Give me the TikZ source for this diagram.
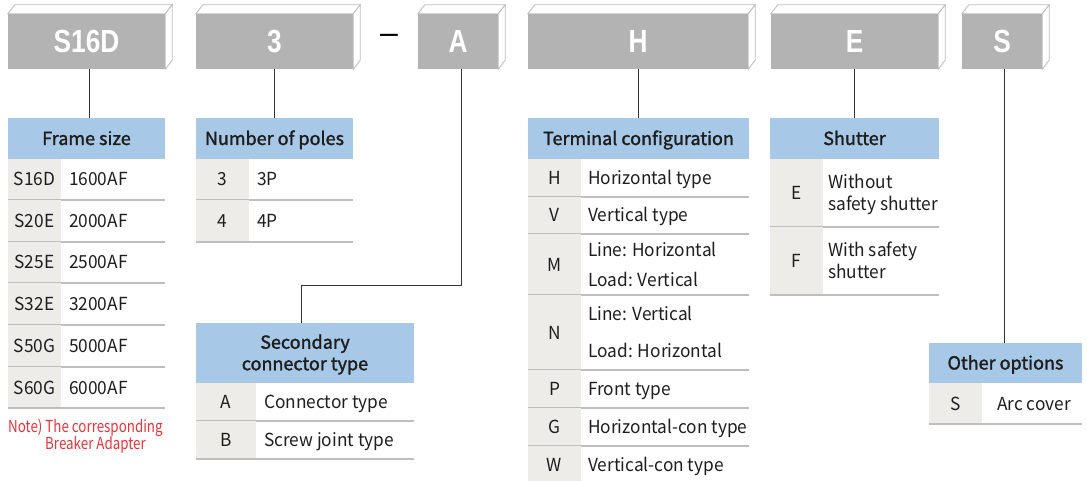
\documentclass[tikz,border=0pt]{standalone}
\usepackage{fontspec}
\setmainfont[FakeStretch=0.96]{Noto Sans CJK KR}
\newfontfamily\hdrfont[FakeBold=1.6]{Noto Sans CJK KR}
\newfontfamily\boxfont[FakeStretch=0.82]{Liberation Sans}
\newfontfamily\dashfont{Liberation Sans}
\newfontfamily\notefont[FakeStretch=0.81]{Noto Sans CJK KR}

\definecolor{boxgray}{HTML}{B3B3B3}
\definecolor{faceline}{HTML}{BEBEBE}
\definecolor{hdrblue}{HTML}{A7C8E6}
\definecolor{codebg}{HTML}{EDECE9}
\definecolor{sepline}{HTML}{BEBEBE}
\definecolor{linkline}{HTML}{333333}
\definecolor{notered}{HTML}{E8323C}
\definecolor{txt}{HTML}{1E1E1E}

% one table row: name, x0, x-split, x1, y0, y1, code, description, description options
\newcommand\tabrow[9]{%
  \fill[codebg] (#2,#5) rectangle (#3,#6);
  \draw[sepline, line width=1.4pt] (#2,#6) -- (#4,#6);
  \node[codetxt] (#1c) at ({(#2+#3)/2},{(#5+#6)/2}) {#7};
  \node[desctxt, #9] (#1d) at (#3,{(#5+#6)/2}) {#8};
}

% raised grey code block with its top and side faces
\newcommand\codeblock[4]{% name, x0, x1, letter
  \node[block, minimum width={#3-#2}] (#1) at ({(#2+#3)/2},41.5) {#4};
  \filldraw[fill=white, draw=faceline, line width=0.9pt]
    (#1.north west) -- ++(7,-9) -- ([xshift=7,yshift=9]#1.north east) -- (#1.north east) -- cycle;
  \filldraw[fill=white, draw=faceline, line width=0.9pt]
    (#1.north east) -- ++(7,-9) -- ([xshift=7,yshift=9]#1.south east) -- (#1.south east) -- cycle;
}

\begin{document}
\begin{tikzpicture}[x=1pt,y=-1pt,
  block/.style={rectangle, fill=boxgray, inner sep=0pt, minimum height=55pt,
    text=white, font=\boxfont\bfseries\fontsize{32}{34}\selectfont,
    text height=23pt, text depth=0pt},
  hdr/.style={rectangle, fill=hdrblue, inner sep=0pt, text=txt, align=center,
    font=\hdrfont\fontsize{18}{21.5}\selectfont, text height=13pt, text depth=0pt},
  codetxt/.style={inner sep=0pt, text=txt, font=\fontsize{18}{22}\selectfont,
    text height=13pt, text depth=0pt},
  desctxt/.style={inner sep=0pt, anchor=west, align=left, text=txt,
    font=\fontsize{18}{22}\selectfont, text height=13pt, text depth=0pt},
  link/.style={linkline, line width=1pt},
  note/.style={inner sep=0pt, anchor=base west, text=notered,
    font=\notefont\fontsize{16.5}{18}\selectfont}
]
\useasboundingbox (0,0) rectangle (1087,481);

% ---- code blocks ----
\codeblock{bFrame}{8}{165}{S16D}
\codeblock{bPoles}{196}{353}{3}
\codeblock{bSec}{418}{498}{A}
\codeblock{bTerm}{528}{748}{H}
\codeblock{bShut}{771}{938}{E}
\codeblock{bOpt}{962}{1042}{S}
\node[inner sep=0pt, anchor=base, font=\dashfont\fontsize{32}{34}\selectfont] (dash) at (389,44) {–};

% ---- Frame size ----
\node[hdr, minimum width=157pt, minimum height=41pt] (hFrame) at (86.5,138.5) {Frame size};
\tabrow{fA}{8}{61}{165}{159}{200}{S16D}{1600AF}{xshift=8pt}
\tabrow{fB}{8}{61}{165}{200}{242}{S20E}{2000AF}{xshift=8pt}
\tabrow{fC}{8}{61}{165}{242}{283}{S25E}{2500AF}{xshift=8pt}
\tabrow{fD}{8}{61}{165}{283}{325}{S32E}{3200AF}{xshift=8pt}
\tabrow{fE}{8}{61}{165}{325}{367}{S50G}{5000AF}{xshift=8pt}
\tabrow{fF}{8}{61}{165}{367}{408}{S60G}{6000AF}{xshift=8pt}
\node[note] (note1) at (8,432) {Note) The corresponding};
\node[note] (note2) at (45,449) {Breaker Adapter};

% ---- Number of poles ----
\node[hdr, minimum width=157pt, minimum height=41pt] (hPoles) at (274.5,138.5) {Number of poles};
\tabrow{pA}{196}{249}{353}{159}{200}{3}{3P}{xshift=8pt}
\tabrow{pB}{196}{249}{353}{200}{242}{4}{4P}{xshift=8pt}

% ---- Secondary connector type ----
\node[hdr, minimum width=218pt, minimum height=60pt, text height=34.5pt] (hSec) at (305,353) {Secondary\\connector type};
\tabrow{sA}{196}{256}{414}{383}{421}{A}{Connector type}{xshift=8pt}
\tabrow{sB}{196}{256}{414}{421}{459}{B}{Screw joint type}{xshift=8pt}

% ---- Terminal configuration ----
\node[hdr, minimum width=221pt, minimum height=41pt] (hTerm) at (638.5,138.5) {Terminal configuration};
\tabrow{tH}{528}{581}{749}{159}{197}{H}{Horizontal type}{xshift=7pt}
\tabrow{tV}{528}{581}{749}{197}{234}{V}{Vertical type}{xshift=7pt}
\tabrow{tM}{528}{581}{749}{234}{295}{M}{Line: Horizontal\\[8pt]Load: Vertical}{xshift=7pt, text height=43pt}
\tabrow{tN}{528}{581}{749}{295}{370}{N}{Line: Vertical\\[15pt]Load: Horizontal}{xshift=7pt, text height=50pt}
\tabrow{tP}{528}{581}{749}{370}{408}{P}{Front type}{xshift=7pt}
\tabrow{tG}{528}{581}{749}{408}{446}{G}{Horizontal-con type}{xshift=7pt}
\tabrow{tW}{528}{581}{749}{446}{483}{W}{Vertical-con type}{xshift=7pt}

% ---- Shutter ----
\node[hdr, minimum width=169pt, minimum height=41pt] (hShut) at (854.5,138.5) {Shutter};
\tabrow{hE}{770}{823}{939}{159}{227}{E}{Without\\safety shutter}{xshift=5pt, text height=35pt}
\tabrow{hF}{770}{823}{939}{227}{295}{F}{With safety\\shutter}{xshift=5pt, text height=35pt}

% ---- Other options ----
\node[hdr, minimum width=153pt, minimum height=40pt] (hOpt) at (1005.5,363) {Other options};
\tabrow{oS}{929}{982}{1082}{383}{424}{S}{Arc cover}{xshift=15pt}

% ---- leader lines ----
\draw[link] ([xshift=3]bFrame.south) -- ([xshift=3]bFrame.south |- hFrame.north);
\draw[link] (bPoles.south) -- (bPoles.south |- hPoles.north);
\coordinate (secbend) at (301,285);
\draw[link] ([xshift=3]bSec.south) |- (secbend) -- (secbend |- hSec.north);
\draw[link] (bTerm.south) -- (bTerm.south |- hTerm.north);
\draw[link] (bShut.south) -- (bShut.south |- hShut.north);
\draw[link] ([xshift=2]bOpt.south) -- ([xshift=2]bOpt.south |- hOpt.north);
\end{tikzpicture}
\end{document}
